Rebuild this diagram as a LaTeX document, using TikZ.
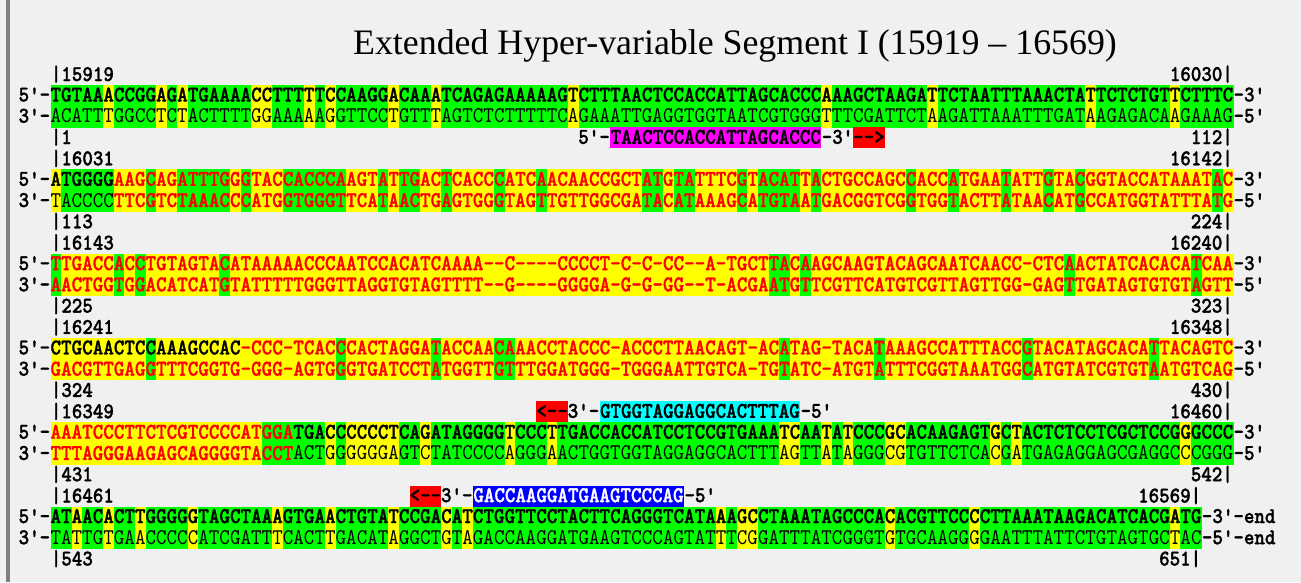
\documentclass[tikz,border=0pt]{standalone}
\usepackage{fontspec}
\newfontfamily\titlefont{Liberation Serif}
\newfontfamily\seqfont{lmmono10-regular}[Extension=.otf,FakeStretch=0.89,
  BoldFont=lmmonolt10-bold,BoldFeatures={FakeBold=1.3}]

\definecolor{seqgreen}{RGB}{0,255,0}
\definecolor{seqyellow}{RGB}{255,255,0}
\definecolor{seqred}{RGB}{255,0,0}
\definecolor{primerpink}{RGB}{255,0,255}
\definecolor{primercyan}{RGB}{0,255,255}
\definecolor{primerblue}{RGB}{0,0,255}
\definecolor{panel}{RGB}{240,240,240}
\definecolor{edge}{RGB}{128,128,128}

\tikzset{
  seqtext/.style={anchor=base, inner sep=0pt, font=\seqfont\fontsize{12.8}{14}\selectfont\bfseries},
  lefttext/.style={seqtext, anchor=base east},
  righttext/.style={seqtext, anchor=base west},
  titletext/.style={anchor=base, inner sep=0pt, font=\titlefont\fontsize{20.4}{24}\selectfont}
}

% x position of the left edge of a column
\newcommand\seqx[1]{50.5+10.56*#1}

\makeatletter
\newcount\seqcol
% complements, case kept (upper case = green column, lower case = yellow)
\def\cmpA{T}\def\cmpT{A}\def\cmpG{C}\def\cmpC{G}
\def\cmpa{t}\def\cmpt{a}\def\cmpg{c}\def\cmpc{g}
\@namedef{cmp-}{-}

% #1 top, #2/#3 first/last red column, #4 weight of black letters,
% #5 letters, #6 node names, #7 left end, #8 right end
\newcommand\seqrow[8]{%
  \edef\seqlist{#5}%
  \seqcol=0
  \node[lefttext] (#6l) at ({\seqx{0}},{#1+16.5}) {#7};
  \expandafter\@tfor\expandafter\seqch\expandafter:\expandafter=\seqlist\do{%
    \def\seqbg{seqgreen}%
    \if\seqch-\def\seqbg{seqyellow}\fi
    \ifnum\expandafter`\seqch>`Z\relax\def\seqbg{seqyellow}\fi
    \def\seqfg{black}\def\seqwt{#4}%
    \ifnum\seqcol<#2\relax\else\ifnum\seqcol>#3\relax\else
      \def\seqfg{seqred}\def\seqwt{\bfseries}\fi\fi
    \fill[\seqbg] ({\seqx{\the\seqcol}},#1) rectangle ++(10.9,21.3);
    \node[seqtext,text=\seqfg] (#6\the\seqcol) at ({\seqx{\the\seqcol}+5.28},{#1+16.5})
      {\seqwt\expandafter\uppercase\expandafter{\seqch}};
    \advance\seqcol by 1
  }%
  \node[righttext] (#6r) at ({\seqx{\the\seqcol}},{#1+16.5}) {#8};
}

% #1 top, #2 5' strand, #3/#4 red on 5', #5/#6 red on 3', #7 name, #8 tail
\newcommand\seqblock[8]{%
  \seqrow{#1}{#3}{#4}{\bfseries}{#2}{#7u}{5'-}{-3'#8}%
  \def\seqcomp{}%
  \@tfor\seqch:=#2\do{\edef\seqcomp{\seqcomp\csname cmp\seqch\endcsname}}%
  \seqrow{#1+21.2}{#5}{#6}{\mdseries}{\seqcomp}{#7d}{3'-}{-5'#8}%
}
\makeatother

\begin{document}
\begin{tikzpicture}[x=0.02cm,y=-0.02cm]
  % panel and its left edge
  \fill[panel] (0,0) rectangle (1301,582);
  \useasboundingbox (0,0) rectangle (1301,582);
  \fill[edge] (6,0) rectangle (10,582);

  % title
  \node[titletext] (title) at (735,54) {Extended Hyper-variable Segment I (15919 – 16569)};

  % the six blocks of the double strand
  \seqblock{85}{TGTAAaCCGGaGaTGAAAAccTTTtTcCAAGGaCAAaTCAGAGAAAAAGtCTTTAACTCCACCATTAGCACCCaAAGCTAAGAtTCTAATTTAAACTAtTCTCTGTtCTTTC}{999}{-1}{999}{-1}{a}{}
  \seqblock{169.3}{aTGGGGaagCagATTTGgGtacCACCCAagtAtTGacTcaccCatcAacaaccgctATgTAtttcGtACATtActgccagcCaccAtgaaTattGtaCggtaccataaatAc}{6}{111}{6}{111}{b}{}
  \seqblock{253.6}{TtgaccAcCtgtagtaCataaaaacccaatccacatcaaaa--c----cccct-c-c-cc--a-tgctTAcAagcaagtacagcaatcaacc-ctcAactatcacacaTcaa}{0}{111}{0}{111}{c}{}
  \seqblock{337.9}{ctgcaactcCaaagccac-ccc-tcacCcactaggaTaccaaCAaacctaccc-acccttaacagt-acAtag-tacaTaaagccatttaccGtacatagcacaTtacagtc}{18}{111}{0}{111}{d}{}
  \seqblock{422.2}{aaatcccttctcgtccccatGGATGAcCcccctCAgATAGGGGtCCCtTGACCACCATCCTCCGTGAAAtcAAtAtCCCgcACAAGAGTgCtACTCTCCTCGCTCCGgGCCC}{0}{22}{0}{22}{e}{}
  \seqblock{506.5}{ATaACaCTtGGGGgTAGCTAAaGTGAaCTGTAtCCGAcAtCTGGTTCCTACTTCAGGGTCATAaAgcCTAAATAGCCCAcACGTTCCcCTTAAATAAGACATCACGaTG}{999}{-1}{999}{-1}{f}{-end}

  % position numbers above and below each block
  \foreach \t/\n/\a/\b/\c/\d/\e in {85/a/15919/16030/1/112/112, 169.3/b/16031/16142/113/224/112,
      253.6/c/16143/16240/225/323/112, 337.9/d/16241/16348/324/430/112,
      422.2/e/16349/16460/431/542/112, 506.5/f/16461/16569/543/651/109} {
    \node[righttext] (\n tl) at ({\seqx{0}},{\t-4}) {|\a};
    \node[lefttext] (\n tr) at ({\seqx{\e}},{\t-4}) {\b|};
    \node[righttext] (\n bl) at ({\seqx{0}},{\t+59}) {|\c};
    \node[lefttext] (\n br) at ({\seqx{\e}},{\t+59}) {\d|};
  }

  % forward primer under block 1
  \fill[primerpink] ({\seqx{53}},127.3) rectangle ({\seqx{73}},148.3);
  \fill[seqred] ({\seqx{76}},127.3) rectangle ({\seqx{79}},148.3);
  \node[lefttext] (p1l) at ({\seqx{53}},143.8) {5'-};
  \node[seqtext] (p1) at ({\seqx{63}},143.8) {TAACTCCACCATTAGCACCC};
  \node[righttext] (p1r) at ({\seqx{73}},143.8) {-3'};
  \node[seqtext] (p1a) at ({\seqx{77.5}},143.8) {-{}->};

  % reverse primer over block 5
  \fill[seqred] ({\seqx{46}},401.2) rectangle ({\seqx{49}},422.2);
  \fill[primercyan] ({\seqx{52}},401.2) rectangle ({\seqx{71}},422.2);
  \node[seqtext] (p2a) at ({\seqx{47.5}},417.8) {<-{}-};
  \node[lefttext] (p2l) at ({\seqx{52}},417.8) {3'-};
  \node[seqtext] (p2) at ({\seqx{61.5}},417.8) {GTGGTAGGAGGCACTTTAG};
  \node[righttext] (p2r) at ({\seqx{71}},417.8) {-5'};

  % reverse primer over block 6
  \fill[seqred] ({\seqx{34}},485.5) rectangle ({\seqx{37}},506.5);
  \fill[primerblue] ({\seqx{40}},485.5) rectangle ({\seqx{60}},506.5);
  \node[seqtext] (p3a) at ({\seqx{35.5}},502.1) {<-{}-};
  \node[lefttext] (p3l) at ({\seqx{40}},502.1) {3'-};
  \node[seqtext,text=white] (p3) at ({\seqx{50}},502.1) {GACCAAGGATGAAGTCCCAG};
  \node[righttext] (p3r) at ({\seqx{60}},502.1) {-5'};
\end{tikzpicture}
\end{document}
